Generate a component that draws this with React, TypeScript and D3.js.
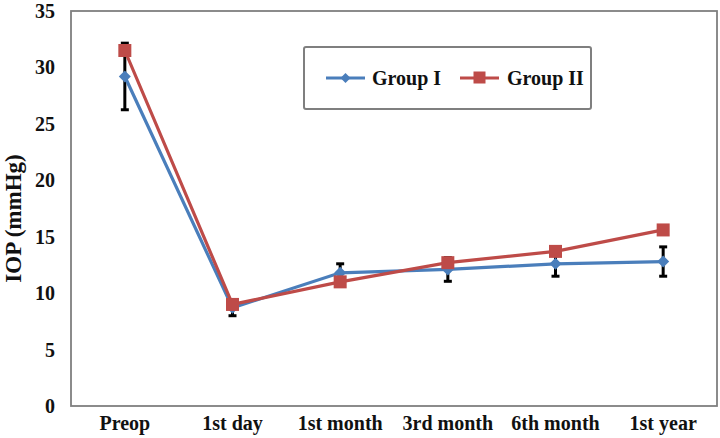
import React from "react";
import * as d3 from "d3";

const categories = ["Preop", "1st day", "1st month", "3rd month", "6th month", "1st year"];
const group1 = [29.2, 8.7, 11.8, 12.1, 12.6, 12.8];
const group2 = [31.5, 9.0, 11.0, 12.7, 13.7, 15.6];
const group1Err = [2.95, 0.7, 0.8, 1.05, 1.1, 1.3];
const yTicks = [0, 5, 10, 15, 20, 25, 30, 35];
const seriesNames = ["Group I", "Group II"];

const W = 720;
const H = 438;
const plot = { left: 71, right: 717, top: 11, bottom: 406 };
const BLUE = "#4A7EBB";
const RED = "#BE4B48";
const FONT = "'Liberation Serif', 'Times New Roman', serif";

export default function App() {
  const x = d3.scalePoint<string>().domain(categories).range([plot.left, plot.right]).padding(0.5);
  const y = d3.scaleLinear().domain([0, 35]).range([plot.bottom, plot.top]);
  const line = d3
    .line<number>()
    .x((_, i) => x(categories[i]) as number)
    .y((d) => y(d));

  const diamond = (cx: number, cy: number, r: number) =>
    `M${cx},${cy - r}L${cx + r},${cy}L${cx},${cy + r}L${cx - r},${cy}Z`;

  return (
    <svg width={W} height={H} style={{ position: "absolute", left: 0, top: 0, background: "#fff" }} fontFamily={FONT}>
      <rect x={0} y={0} width={W} height={H} fill="#fff" />
      {/* plot frame */}
      <rect
        x={plot.left}
        y={plot.top}
        width={plot.right - plot.left}
        height={plot.bottom - plot.top}
        fill="none"
        stroke="#7f7f7f"
        strokeWidth={1.8}
      />
      {/* y tick labels */}
      {yTicks.map((t) => (
        <text key={t} x={55} y={y(t)} dy="0.35em" textAnchor="end" fontSize={20} fontWeight="bold" fill="#111">
          {t}
        </text>
      ))}
      {/* x labels */}
      {categories.map((c) => (
        <text key={c} x={x(c)} y={430} textAnchor="middle" fontSize={20} fontWeight="bold" fill="#111">
          {c}
        </text>
      ))}
      {/* y title */}
      <text
        transform={`translate(21,${(plot.top + plot.bottom) / 2 + 10}) rotate(-90)`}
        textAnchor="middle"
        fontSize={23}
        fontWeight="bold"
        fill="#111"
      >
        IOP (mmHg)
      </text>
      {/* error bars */}
      {group1.map((v, i) => {
        const cx = x(categories[i]) as number;
        const y1 = y(v + group1Err[i]);
        const y2 = y(v - group1Err[i]);
        return (
          <g key={i} stroke="#000" strokeWidth={3}>
            <line x1={cx} x2={cx} y1={y1} y2={y2} />
            <line x1={cx - 4} x2={cx + 4} y1={y1} y2={y1} />
            <line x1={cx - 4} x2={cx + 4} y1={y2} y2={y2} />
          </g>
        );
      })}
      {/* lines */}
      <path d={line(group1) || ""} fill="none" stroke={BLUE} strokeWidth={3.2} />
      {group1.map((v, i) => (
        <path key={i} d={diamond(x(categories[i]) as number, y(v), 6)} fill={BLUE} />
      ))}
      <path d={line(group2) || ""} fill="none" stroke={RED} strokeWidth={3.2} />
      {group2.map((v, i) => (
        <rect key={i} x={(x(categories[i]) as number) - 6.5} y={y(v) - 6.5} width={13} height={13} fill={RED} />
      ))}
      {/* legend */}
      <rect x={304} y={47} width={287} height={62} rx={2} fill="#fff" stroke="#7f7f7f" strokeWidth={2} />
      <line x1={326} x2={365} y1={78} y2={78} stroke={BLUE} strokeWidth={3.2} />
      <path d={diamond(345.5, 78, 5)} fill={BLUE} />
      <text x={372} y={85} fontSize={20} fontWeight="bold" fill="#111">
        {seriesNames[0]}
      </text>
      <line x1={460} x2={499} y1={78} y2={78} stroke={RED} strokeWidth={3.2} />
      <rect x={473.5} y={71.5} width={12} height={12} fill={RED} />
      <text x={507} y={85} fontSize={20} fontWeight="bold" fill="#111">
        {seriesNames[1]}
      </text>
    </svg>
  );
}
